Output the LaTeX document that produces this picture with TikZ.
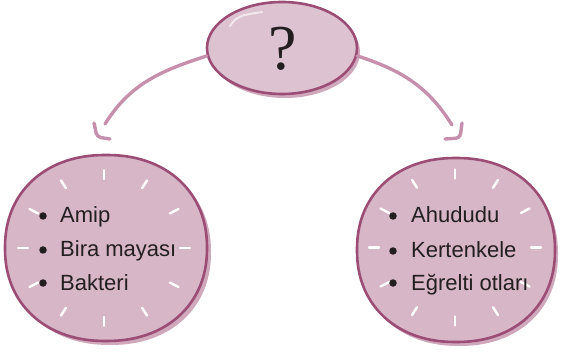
\documentclass[tikz,border=0pt]{standalone}
\usepackage{fontspec}
\newfontfamily\listfont{Liberation Sans}
\newfontfamily\qfont{Liberation Serif}
\usetikzlibrary{shapes.geometric,calc}
\definecolor{topfill}{HTML}{DDC3D2}
\definecolor{circfill}{HTML}{D7B6C7}
\definecolor{shadowc}{HTML}{CFA8BC}
\definecolor{outlinec}{HTML}{9C4D76}
\definecolor{arrowc}{HTML}{C690AD}
\definecolor{bulletc}{HTML}{231F20}
\begin{document}
\begin{tikzpicture}[x=1pt,y=1pt,
  bubble/.style={ellipse,draw=outlinec,line width=2.6pt,inner sep=0pt},
  sq/.style n args={4}{insert path={plot[domain=0.5:359.5,samples=180,variable=\t,smooth]
     ({#1+#3*cos(\t)*pow(abs(cos(\t)),-0.08)},{#2+#4*sin(\t)*pow(abs(sin(\t)),-0.08)}) -- cycle}},
  outl/.style={draw=outlinec,line width=2.6pt},
  tickmark/.style={white,line width=2.4pt,line cap=round},
  conn/.style={arrowc,line width=3.4pt,line cap=round},
  hook/.style={arrowc,line width=3.4pt,line cap=round,rounded corners=4pt},
  item/.style={anchor=base west,inner sep=0pt,font=\listfont\fontsize{22}{26}\selectfont,text=bulletc},
  dot/.style={circle,fill=bulletc,inner sep=0pt,minimum size=7.5pt}]
\useasboundingbox (0,0) rectangle (561,353);
% shadows
\fill[shadowc] (285,301) ellipse [x radius=75, y radius=46];
\fill[shadowc] [sq={110}{101}{101}{93}];
\fill[shadowc] [sq={459}{99}{99}{92}];
% arrow end points
\coordinate (lend) at (105,229);
\coordinate (rend) at (452,228);
% main shapes
\node[bubble,fill=topfill,minimum width=150pt,minimum height=92pt] (top) at (282,305) {};
\path[fill=circfill,outl] [sq={106}{105}{101}{93}];
\path[fill=circfill,outl] [sq={456}{103}{99}{92}];
\node[ellipse,inner sep=0pt,minimum width=202pt,minimum height=186pt] (L) at (106,105) {};
\node[ellipse,inner sep=0pt,minimum width=198pt,minimum height=184pt] (R) at (456,103) {};
% connectors
\draw[conn] (top.186) to[out=198,in=58] (lend);
\draw[hook] ($(lend)+(-11,1)$) -- ($(lend)+(-8,-13)$) -- ($(lend)+(5,-15)$);
\draw[conn] (top.-6) to[out=-18,in=122] (rend);
\draw[hook] ($(rend)+(10,2)$) -- ($(rend)+(8,-13)$) -- ($(rend)+(-7,-14)$);
% highlight on top ellipse
\draw[white,opacity=0.6,line width=2pt,line cap=round] (230,327) to[out=60,in=190] (262,341);
% ticks
\coordinate (Lc) at (104,105);
\coordinate (Rc) at (455,105.5);
\foreach \a in {0,30,...,330}{
  \draw[tickmark] ($(Lc)+(\a:76 and 69)$) -- ($(Lc)+(\a:86 and 78)$);
  \draw[tickmark] ($(Rc)+(\a:76 and 69)$) -- ($(Rc)+(\a:86 and 78)$);
}
% question mark
\node[anchor=base,inner sep=0pt,font=\qfont\fontsize{64}{66}\selectfont,text=bulletc] (q) at (283,283) {?};
% left list
\node[dot] (lb1) at (43,137) {};
\node[dot] (lb2) at (43,103) {};
\node[dot] (lb3) at (43,70) {};
\node[item] (l1) at (60,130) {Amip};
\node[item] (l2) at (60,96) {Bira mayası};
\node[item] (l3) at (60,63) {Bakteri};
% right list
\node[dot] (rb1) at (393,137) {};
\node[dot] (rb2) at (393,102) {};
\node[dot] (rb3) at (393,70) {};
\node[item] (r1) at (411,130) {Ahududu};
\node[item] (r2) at (411,95) {Kertenkele};
\node[item] (r3) at (411,63) {Eğrelti otları};
\end{tikzpicture}
\end{document}
